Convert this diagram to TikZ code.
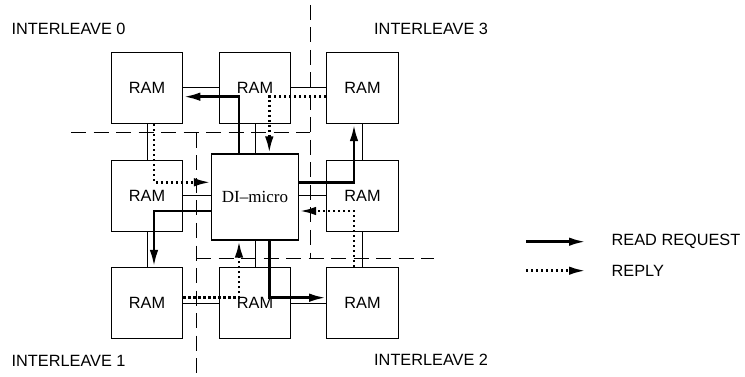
\documentclass[tikz,border=0pt]{standalone}
\usepackage{fontspec}
\setmainfont{Liberation Sans}
\newfontfamily\serfont{Liberation Serif}
\usetikzlibrary{calc,arrows.meta}
\begin{document}
\begin{tikzpicture}[x=1pt,y=-1pt,
  ram/.style={draw,line width=1.1pt,minimum width=71.5pt,minimum height=71pt,inner sep=0pt,font=\fontsize{16.3}{18}\selectfont},
  cpu/.style={draw,line width=1.1pt,minimum width=87pt,minimum height=86pt,inner sep=0pt,font=\serfont\fontsize{17}{19}\selectfont},
  link/.style={line width=1pt},
  req/.style={line width=2.8pt,-{Latex[length=17pt,width=8.5pt]}},
  rep/.style={line width=2.8pt,dash pattern=on 2.4pt off 2.6pt,-{Latex[length=17pt,width=8.5pt]}},
  divider/.style={line width=1pt,dash pattern=on 15pt off 7.5pt},
  lbl/.style={inner sep=0pt,anchor=west,font=\fontsize{16.3}{18}\selectfont}]
\useasboundingbox (0,0) rectangle (745,377);
% dashed dividers
\coordinate (va1) at (310,5);
\coordinate (va2) at (310,258);
\coordinate (hb1) at (196,258);
\coordinate (hb2) at (434,258);
\coordinate (vc1) at (196,133);
\coordinate (vc2) at (196,376);
\coordinate (hd1) at (71,133);
\coordinate (hd2) at (310,133);
\draw[divider] (va1) -- (va2);
\draw[divider] (hb1) -- (hb2);
\draw[divider] (vc1) -- (vc2);
\draw[divider] (hd1) -- (hd2);
% nodes
\node[ram] (r00) at (147,88) {RAM};
\node[ram] (r01) at (255,88) {RAM};
\node[ram] (r02) at (362.5,88) {RAM};
\node[ram] (r10) at (147,196) {RAM};
\node[cpu] (di) at (255,197) {DI–micro};
\node[ram] (r12) at (362.5,196) {RAM};
\node[ram] (r20) at (147,303) {RAM};
\node[ram] (r21) at (255,303) {RAM};
\node[ram] (r22) at (362.5,303) {RAM};
% thin links
\draw[link] (r00) -- (r01);
\draw[link] (r01) -- (r02);
\draw[link] (r00) -- (r10);
\draw[link] (r01) -- (di);
\draw[link] (r02) -- (r12);
\draw[link] (r10.east) -- (di.west |- r10.east);
\draw[link] (di.east |- r12.west) -- (r12.west);
\draw[link] (r10) -- (r20);
\draw[link] (di.south -| r21.north) -- (r21.north);
\draw[link] (r12) -- (r22);
\draw[link] (r20) -- (r21);
\draw[link] (r21) -- (r22);
% read requests
\draw[req] ($(di.north)+(-16,0)$) |- ($(r00.east)+(0,8.7)$);
\draw[req] ($(di.west)+(0,14)$) -| ($(r20.north)+(7,0)$);
\draw[req] ($(di.east)+(0,-14.7)$) -| ($(r02.south)+(-8.5,0)$);
\draw[req] ($(di.south)+(14.3,0)$) |- ($(r22.west)+(0,-5.3)$);
% replies
\draw[rep] ($(r00.south)+(7,0)$) |- ($(di.west)+(0,-14.7)$);
\draw[rep] ($(r02.west)+(0,8.7)$) -| ($(di.north)+(14.3,0)$);
\draw[rep] ($(r22.north)+(-8.5,0)$) |- ($(di.east)+(0,14)$);
\draw[rep] ($(r20.east)+(0,-5.3)$) -| ($(di.south)+(-16,0)$);
% labels
\node[lbl] (i0) at (11.5,29) {INTERLEAVE 0};
\node[lbl] (i3) at (374,29) {INTERLEAVE 3};
\node[lbl] (i1) at (11.5,361) {INTERLEAVE 1};
\node[lbl] (i2) at (374,360) {INTERLEAVE 2};
% legend
\coordinate (la1) at (526,241.7);
\coordinate (la2) at (586,241.7);
\coordinate (lb1) at (526,270.7);
\coordinate (lb2) at (586,270.7);
\draw[req] (la1) -- (la2);
\draw[rep] (lb1) -- (lb2);
\node[lbl] (t1) at (611.5,241.7) {READ REQUEST};
\node[lbl] (t2) at (611.5,270.7) {REPLY};
\end{tikzpicture}
\end{document}
